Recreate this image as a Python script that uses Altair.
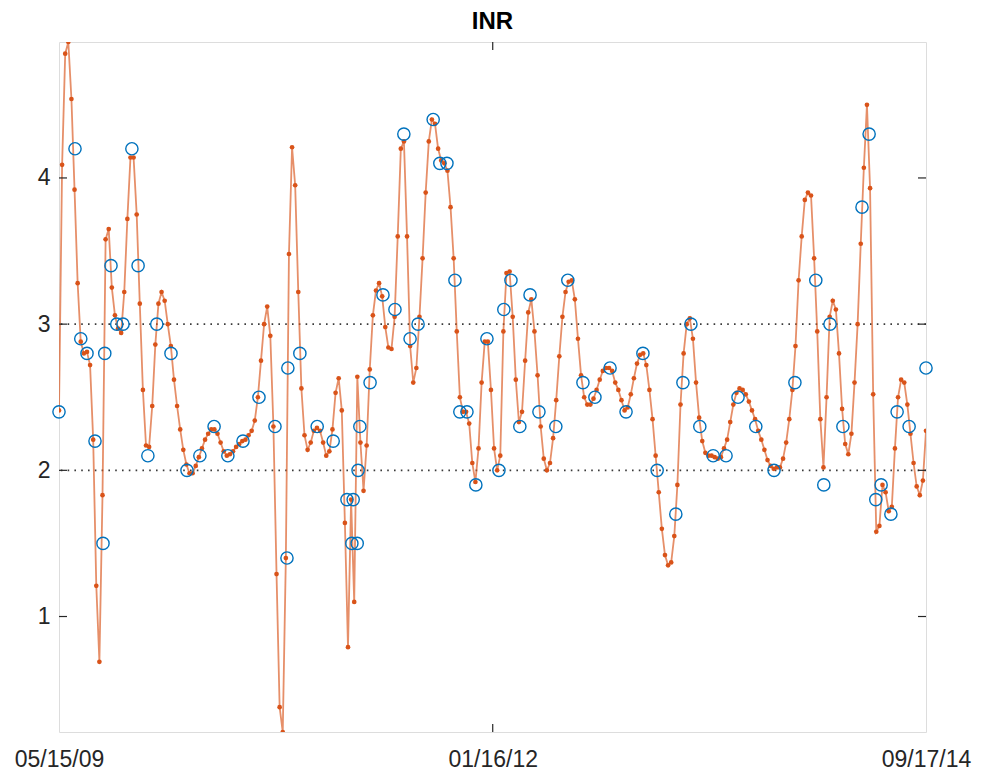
import altair as alt
import pandas as pd

# ---- data ----
START = "2009-05-15"
END = "2014-09-17"

# measured INR values (blue circles): day offset from START, value
inr_days = [0, 36, 49, 63, 81, 99, 103, 117, 130, 144, 164, 178, 200, 220, 252,
            288, 317, 349, 380, 414, 450, 486, 513, 515, 542, 581, 617, 648, 659,
            662, 671, 673, 677, 700, 729, 756, 776, 790, 808, 842, 857, 873, 891,
            902, 918, 938, 963, 990, 1001, 1017, 1037, 1060, 1080, 1118, 1145,
            1179, 1206, 1240, 1276, 1314, 1346, 1388, 1404, 1422, 1442, 1472,
            1501, 1528, 1568, 1609, 1656, 1703, 1721, 1735, 1764, 1807, 1823,
            1838, 1850, 1872, 1886, 1913, 1951]
inr_vals = [2.4, 4.2, 2.9, 2.8, 2.2, 1.5, 2.8, 3.4, 3.0, 3.0, 4.2, 3.4, 2.1, 3.0, 2.8,
            2.0, 2.1, 2.3, 2.1, 2.2, 2.5, 2.3, 1.4, 2.7, 2.8, 2.3, 2.2, 1.8, 1.5,
            1.8, 1.5, 2.0, 2.3, 2.6, 3.2, 3.1, 4.3, 2.9, 3.0, 4.4, 4.1, 4.1, 3.3,
            2.4, 2.4, 1.9, 2.9, 2.0, 3.1, 3.3, 2.3, 3.2, 2.4, 2.3, 3.3,
            2.6, 2.5, 2.7, 2.4, 2.8, 2.0, 1.7, 2.6, 3.0, 2.3, 2.1,
            2.1, 2.5, 2.3, 2.0, 2.6, 3.3, 1.9, 3.0, 2.3, 3.8, 4.3,
            1.8, 1.9, 1.7, 2.4, 2.3, 2.7]

# weekly curve (orange dots), read point by point, evenly spaced START..END
weekly_vals = [
    2.41, 4.09, 4.85, 4.93, 4.54, 3.92, 3.28, 2.88, 2.80, 2.81,
    2.72, 2.21, 1.21, 0.69, 1.83, 3.58, 3.65, 3.25, 3.06, 2.97,
    2.94, 3.22, 3.72, 4.14, 4.14, 3.75, 3.14, 2.55, 2.17, 2.16,
    2.44, 2.86, 3.14, 3.22, 3.16, 3.00, 2.85, 2.62, 2.44, 2.28,
    2.14, 2.04, 1.98, 1.98, 2.03, 2.09, 2.15, 2.21, 2.25, 2.28,
    2.28, 2.25, 2.19, 2.13, 2.10, 2.11, 2.13, 2.16, 2.18, 2.20,
    2.21, 2.24, 2.27, 2.34, 2.50, 2.75, 3.00, 3.12, 2.92, 2.30,
    1.29, 0.38, 0.21, 1.40, 3.48, 4.21, 3.95, 3.22, 2.56, 2.24,
    2.14, 2.19, 2.27, 2.29, 2.27, 2.19, 2.10, 2.13, 2.28, 2.53,
    2.63, 2.41, 1.64, 0.79, 1.80, 1.10, 2.64, 2.19, 1.86, 2.17,
    2.69, 3.06, 3.23, 3.28, 3.19, 2.98, 2.84, 2.83, 3.05, 3.60,
    4.20, 4.25, 3.60, 2.85, 2.60, 2.70, 3.05, 3.45, 3.90, 4.25,
    4.40, 4.37, 4.20, 4.12, 4.10, 4.05, 3.80, 3.45, 2.95, 2.50,
    2.40, 2.40, 2.32, 2.05, 1.92, 2.15, 2.60, 2.88, 2.88, 2.55,
    2.15, 2.00, 2.10, 2.95, 3.35, 3.36, 3.05, 2.62, 2.33, 2.40,
    2.75, 3.08, 3.17, 2.95, 2.65, 2.30, 2.08, 2.00, 2.05, 2.22,
    2.48, 2.78, 3.05, 3.22, 3.29, 3.30, 3.17, 2.90, 2.65, 2.50,
    2.45, 2.45, 2.49, 2.55, 2.62, 2.68, 2.70, 2.70, 2.68, 2.60,
    2.55, 2.48, 2.41, 2.43, 2.52, 2.63, 2.73, 2.79, 2.80, 2.72,
    2.55, 2.35, 2.10, 1.85, 1.60, 1.42, 1.35, 1.37, 1.55, 1.90,
    2.45, 2.80, 3.00, 3.04, 2.90, 2.60, 2.36, 2.20, 2.12, 2.10,
    2.10, 2.09, 2.08, 2.09, 2.15, 2.21, 2.33, 2.45, 2.53, 2.56,
    2.55, 2.52, 2.47, 2.41, 2.35, 2.27, 2.21, 2.14, 2.07, 2.03,
    2.01, 2.02, 2.02, 2.08, 2.19, 2.35, 2.55, 2.85, 3.30, 3.60,
    3.85, 3.90, 3.88, 3.45, 2.95, 2.35, 2.02, 2.50, 3.05, 3.16,
    3.10, 2.80, 2.42, 2.18, 2.11, 2.25, 2.60, 3.00, 3.55, 4.07,
    4.50, 3.93, 2.52, 1.58, 1.62, 1.90, 1.85, 1.72, 1.75, 2.15,
    2.50, 2.62, 2.60, 2.45, 2.25, 2.05, 1.89, 1.83, 1.93, 2.27,
]

y_tick_vals = [1, 2, 3, 4]
target_range = [2, 3]
x_tick_dates = ["2009-05-15", "2012-01-16", "2014-09-17"]
title_text = "INR"

# ---- build tables ----
start = pd.Timestamp(START)
meas = pd.DataFrame({
    "date": (start + pd.to_timedelta(inr_days, unit="D")).strftime("%Y-%m-%dT%H:%M:%SZ"),
    "inr": inr_vals,
})
weekly = pd.DataFrame({
    "date": pd.date_range(START, END, periods=len(weekly_vals)).strftime("%Y-%m-%dT%H:%M:%SZ"),
    "inr": weekly_vals,
})
targets = pd.DataFrame({"inr": target_range})
yticks = pd.DataFrame({"inr": y_tick_vals})
xticks = pd.DataFrame({"date": [d + "T00:00:00Z" for d in x_tick_dates[1:2]]})

W, H = 867, 690
FONT = "Liberation Sans"
AX = "#262626"
ORANGE = "#D95319"
BLUE = "#0072BD"


def dt(s):
    y, m, d = (int(p) for p in s.split("-"))
    return alt.DateTime(year=y, month=m, date=d, utc=True)


x_scale = alt.Scale(type="utc", domain=[dt(START), dt(END)])
y_scale = alt.Scale(domain=[min(weekly_vals), max(weekly_vals)], zero=False, nice=False)

X = alt.X("date:T", scale=x_scale, title=None,
          axis=alt.Axis(values=[dt(d) for d in x_tick_dates],
                        labelExpr="utcFormat(datum.value, '%m/%d/%y')",
                        ticks=False, domain=False, grid=False,
                        labelFlush=False, labelOverlap=False, labelPadding=16,
                        labelFont=FONT, labelFontSize=23, labelColor=AX))
Y = alt.Y("inr:Q", scale=y_scale, title=None,
          axis=alt.Axis(values=y_tick_vals, ticks=False, domain=False, grid=False,
                        labelPadding=9, labelFont=FONT, labelFontSize=23,
                        labelColor=AX))

dotted = alt.Chart(targets).mark_rule(
    color="#3a3a3a", strokeWidth=1.6, strokeDash=[1.6, 5.2]
).encode(y=Y)

curve_line = alt.Chart(weekly).mark_line(
    color=ORANGE, strokeWidth=1.8, opacity=0.65, clip=True
).encode(x=X, y=Y)

curve_dots = alt.Chart(weekly).mark_circle(
    color=ORANGE, size=22, opacity=1, clip=True
).encode(x=X, y=Y)

circles = alt.Chart(meas).mark_point(
    shape="circle", filled=False, color=BLUE, size=150, strokeWidth=1.4, opacity=1
).encode(x=X, y=Y)

tick_l = alt.Chart(yticks).mark_rule(color=AX, strokeWidth=1.2).encode(
    y=Y, x=alt.value(0), x2=alt.value(8))
tick_r = alt.Chart(yticks).mark_rule(color=AX, strokeWidth=1.2).encode(
    y=Y, x=alt.value(W - 8), x2=alt.value(W))
tick_b = alt.Chart(xticks).mark_rule(color=AX, strokeWidth=1.2).encode(
    x=X, y=alt.value(H - 8), y2=alt.value(H))
tick_t = alt.Chart(xticks).mark_rule(color=AX, strokeWidth=1.2).encode(
    x=X, y=alt.value(0), y2=alt.value(8))

chart = alt.layer(
    dotted, curve_line, curve_dots, circles, tick_l, tick_r, tick_b, tick_t
).properties(
    width=W, height=H,
    title=alt.TitleParams(text=title_text, font=FONT, fontSize=24, fontWeight="bold",
                          color="#000000", anchor="middle", offset=7),
    autosize=alt.AutoSizeParams(type="none"),
    padding={"left": 51, "top": 34, "right": 46, "bottom": 40},
).configure_view(
    stroke=AX, strokeWidth=1.2
).configure(background="white")

chart.save("out.html", embed_options={"renderer": "svg", "actions": False})
